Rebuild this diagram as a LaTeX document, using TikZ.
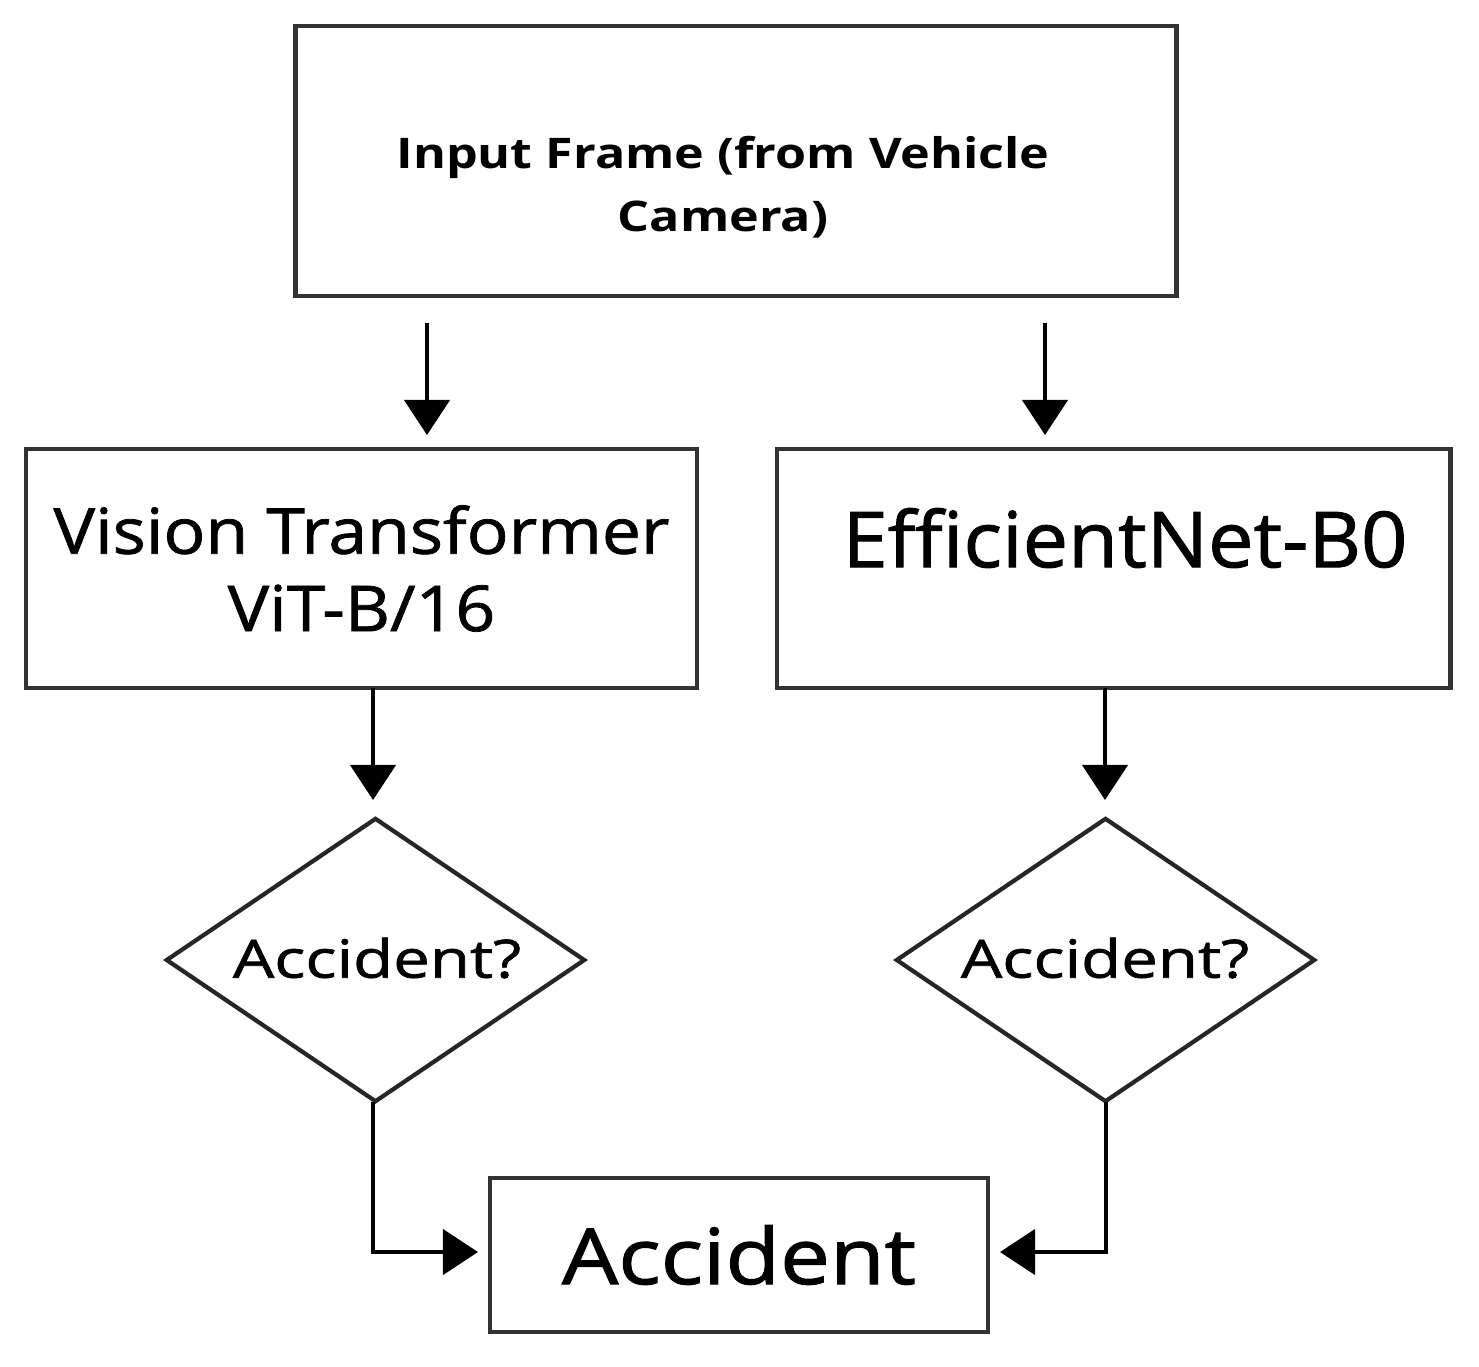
\documentclass[tikz,border=0pt]{standalone}
\usepackage{fontspec}
\setmainfont{Open Sans}
\newfontfamily\fTop[FakeStretch=1.19]{Open Sans Bold}
\newfontfamily\fVit[FakeStretch=1.1,FakeBold=1.2]{Open Sans}
\newfontfamily\fEff[FakeStretch=1.05,FakeBold=1.2]{Open Sans}
\newfontfamily\fQ[FakeStretch=1.24,FakeBold=1.2]{Open Sans}
\newfontfamily\fAcc[FakeStretch=1.15,FakeBold=1.5]{Open Sans}
\usetikzlibrary{arrows.meta,shapes.geometric}
\begin{document}
\begin{tikzpicture}[x=0.01cm,y=-0.01cm,
  box/.style={draw=black!80,line width=1.3pt,rectangle,inner sep=0pt},
  dia/.style={draw=black!85,line width=1.2pt,diamond,inner sep=0pt,minimum width=4.19cm,minimum height=2.84cm},
  arr/.style={draw=black,line width=1.2pt,-{Triangle[length=0.35cm,width=0.45cm]}},
  txt/.style={inner sep=0pt,align=center}]
\useasboundingbox (0,0) rectangle (1479,1366);
\node[box,minimum width=8.8cm,minimum height=2.7cm] (top) at (736,161) {};
\node[txt,font=\fTop\fontsize{12}{18}\selectfont] (toptxt) at (723,187) {Input Frame (from Vehicle\\Camera)};
\node[box,minimum width=6.71cm,minimum height=2.39cm,txt,font=\fVit\fontsize{18}{22}\selectfont] (vit) at (361.5,568.5) {Vision Transformer\\ViT-B/16};
\node[box,minimum width=6.73cm,minimum height=2.39cm] (eff) at (1113.5,568.5) {};
\node[txt,font=\fEff\fontsize{22}{26}\selectfont] (efftxt) at (1125,538) {EfficientNet-B0};
\node[dia] (d1) at (375.5,960) {};
\node[txt,font=\fQ\fontsize{15}{18}\selectfont] (d1txt) at (377,958) {Accident?};
\node[dia] (d2) at (1105.5,960) {};
\node[txt,font=\fQ\fontsize{15}{18}\selectfont] (d2txt) at (1105,958) {Accident?};
\node[box,minimum width=4.98cm,minimum height=1.54cm,font=\fAcc\fontsize{22}{26}\selectfont] (acc) at (739,1255) {Accident};
\coordinate (a1s) at (427,323); \coordinate (a1e) at (427,435);
\coordinate (a2s) at (1045,323); \coordinate (a2e) at (1045,435);
\coordinate (b1s) at (373,688); \coordinate (b1e) at (373,800);
\coordinate (b2s) at (1105,688); \coordinate (b2e) at (1105,800);
\coordinate (c1s) at (373,1102); \coordinate (c1e) at (478,1252);
\coordinate (c2s) at (1106,1102); \coordinate (c2e) at (1000,1252);
\draw[arr] (a1s) -- (a1e);
\draw[arr] (a2s) -- (a2e);
\draw[arr] (b1s) -- (b1e);
\draw[arr] (b2s) -- (b2e);
\draw[arr] (c1s) |- (c1e);
\draw[arr] (c2s) |- (c2e);
\end{tikzpicture}
\end{document}
